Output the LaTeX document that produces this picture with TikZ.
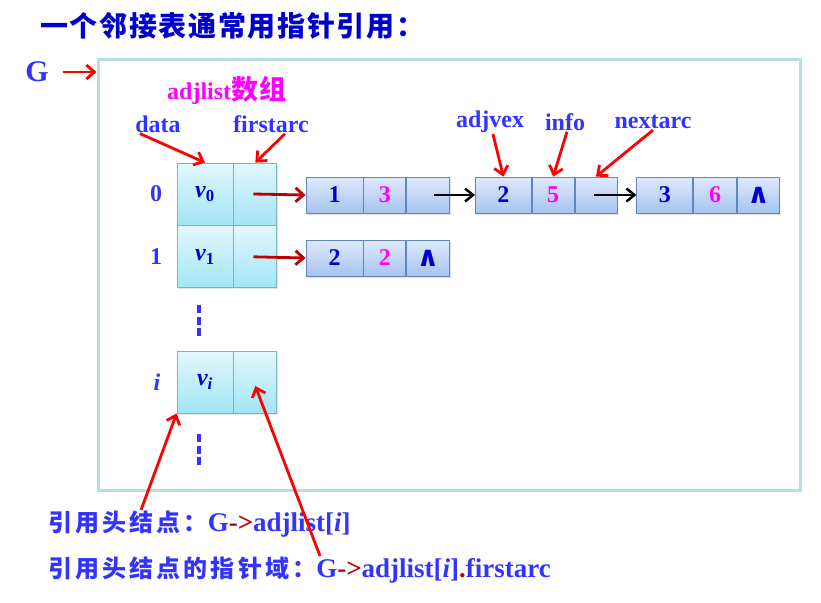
\documentclass[tikz,border=0pt]{standalone}
\usepackage{fontspec}
\setmainfont{Liberation Serif}
\newfontfamily\cjk{Noto Sans CJK SC}[LetterSpace=6]
\newfontfamily\cjkwide{Noto Sans CJK SC}[LetterSpace=13]
\newfontfamily\symfont{DejaVu Sans}
\usetikzlibrary{arrows.meta,positioning,shadows}

\definecolor{titleblue}{RGB}{0,0,204}
\definecolor{lblblue}{RGB}{51,51,255}
\definecolor{numblue}{RGB}{0,0,204}
\definecolor{pink}{RGB}{255,0,255}
\definecolor{darkred}{RGB}{192,0,0}
\definecolor{framecol}{RGB}{183,222,232}
\definecolor{headtop}{RGB}{226,247,252}
\definecolor{headbot}{RGB}{163,229,245}
\definecolor{headline}{RGB}{120,180,195}
\definecolor{arctop}{RGB}{222,233,252}
\definecolor{arcbot}{RGB}{166,196,240}
\definecolor{arcline}{RGB}{95,135,185}

\newcommand\lblfont{\fontsize{24}{28}\selectfont\bfseries}
\newcommand\numfont{\fontsize{24}{28}\selectfont\bfseries}
\newcommand\Gfont{\fontsize{30}{34}\selectfont\bfseries}
\newcommand\titlefont{\fontsize{28}{32}\selectfont\cjk\bfseries}
\newcommand\botcjk{\fontsize{24}{28}\selectfont\cjkwide\bfseries}
\newcommand\botlat{\fontsize{27}{31}\selectfont\bfseries}

\begin{document}
\begin{tikzpicture}[x=1pt,y=-1pt,
    headcell/.style={draw=headline,line width=0.8pt,top color=headtop,bottom color=headbot,minimum height=62pt,inner sep=0pt,text=numblue,font=\numfont,drop shadow={opacity=0.2,shadow xshift=1pt,shadow yshift=-1.5pt}},
    arccell/.style={draw=arcline,line width=0.8pt,top color=arctop,bottom color=arcbot,minimum height=36pt,minimum width=42pt,inner sep=0pt,text=numblue,font=\numfont,drop shadow={opacity=0.25,shadow xshift=1pt,shadow yshift=-1.5pt}},
    lbl/.style={text=lblblue,font=\lblfont,inner sep=1pt},
    refarrow/.style={red,line width=2.8pt,-{Straight Barb[length=8pt,width=14pt]}},
    ptr/.style={darkred,line width=2.8pt,-{Straight Barb[length=8pt,width=14pt]}},
    nextptr/.style={black,line width=2.5pt,-{Straight Barb[length=8pt,width=13pt]}},
    dotline/.style={lblblue,line width=4.5pt,dash pattern=on 8pt off 3.5pt}]
  \useasboundingbox (0,0) rectangle (821,602);

  \node[anchor=west,text=titleblue,font=\titlefont,inner sep=0pt] (title) at (40,26) {一个邻接表通常用指针引用：};
  \node[text=lblblue,font=\Gfont,inner sep=0pt] (G) at (37,72) {G};
  \node[draw=framecol,line width=3pt,minimum width=702pt,minimum height=430pt,inner sep=0pt] (frame) at (449,275) {};

  % head nodes
  \node[text=pink,font=\lblfont] (adjlist) at (227,90) {adjlist{\fontsize{27}{30}\selectfont\cjk 数组}};
  \node[lbl] (data) at (158,124) {data};
  \node[lbl] (firstarc) at (271,124) {firstarc};
  \node[headcell,minimum width=56pt] (d0) at (205,194) {{\itshape v}\textsubscript{0}};
  \node[headcell,minimum width=43pt,right=0pt of d0] (f0) {};
  \node[headcell,minimum width=56pt,below=0pt of d0] (d1) {{\itshape v}\textsubscript{1}};
  \node[headcell,minimum width=43pt,right=0pt of d1] (f1) {};
  \node[headcell,minimum width=56pt] (di) at (205,382) {{\itshape v}\textsubscript{\itshape i}};
  \node[headcell,minimum width=43pt,right=0pt of di] (fi) {};
  \node[lbl] (r0) at (156,194) {0};
  \node[lbl] (r1) at (156,257) {1};
  \node[lbl] (ri) at (157,382) {\itshape i};
  \draw[dotline] (199,305) -- (199,336);
  \draw[dotline] (199,434) -- (199,465);

  % arc nodes
  \node[lbl] (adjvex) at (490,122) {adjvex};
  \node[lbl] (info) at (565,122) {info};
  \node[lbl] (nextarc) at (653,122) {nextarc};
  \node[arccell,minimum width=57pt] (a01) at (334.5,195) {1};
  \node[arccell,right=0pt of a01,text=pink] (a02) {3};
  \node[arccell,minimum width=43pt,right=0pt of a02] (a03) {};
  \node[arccell,minimum width=56pt,right=25pt of a03] (a11) {2};
  \node[arccell,right=0pt of a11,text=pink] (a12) {5};
  \node[arccell,right=0pt of a12] (a13) {};
  \node[arccell,minimum width=56pt,right=19pt of a13] (a21) {3};
  \node[arccell,minimum width=43pt,right=0pt of a21,text=pink] (a22) {6};
  \node[arccell,right=0pt of a22] (a23) {{\fontsize{28}{30}\selectfont\symfont ∧}};
  \node[arccell,minimum width=57pt] (b01) at (334.5,258) {2};
  \node[arccell,right=0pt of b01,text=pink] (b02) {2};
  \node[arccell,minimum width=43pt,right=0pt of b02] (b03) {{\fontsize{28}{30}\selectfont\symfont ∧}};

  \draw[ptr] ([xshift=-2pt]f0.center) -- (a01.west);
  \draw[ptr] ([xshift=-2pt]f1.center) -- (b01.west);
  \draw[nextptr] ([xshift=6pt]a03.center) -- (a11.west);
  \draw[nextptr] ([xshift=-2pt]a13.center) -- (a21.west);

  \draw[refarrow] ([xshift=14pt]G.east) -- (G.east -| frame.west);
  \draw[refarrow] ([xshift=-18pt]data.south) -- (d0.north);
  \draw[refarrow] ([xshift=14pt]firstarc.south) -- (f0.north);
  \draw[refarrow] ([xshift=3pt]adjvex.south) -- (a11.north);
  \draw[refarrow] ([xshift=2pt]info.south) -- (a12.north);
  \draw[refarrow] (nextarc.south) -- (a13.north);

  % access paths
  \node[anchor=west,text=lblblue,inner sep=0pt] (line1) at (48,524) {{\botcjk 引用头结点：}{\botlat G\textcolor{darkred}{->}adjlist[\textit{i}]}};
  \node[anchor=west,text=lblblue,inner sep=0pt] (line2) at (48,570) {{\botcjk 引用头结点的指针域：}{\botlat G\textcolor{darkred}{->}adjlist[\textit{i}]\textcolor{darkred}{.}firstarc}};
  \coordinate (tail1) at (141,510);
  \coordinate (tail2) at (320,556);
  \draw[refarrow] (tail1) -- (di.south west);
  \draw[refarrow] (tail2) -- ([yshift=-4pt]fi.center);
\end{tikzpicture}
\end{document}
